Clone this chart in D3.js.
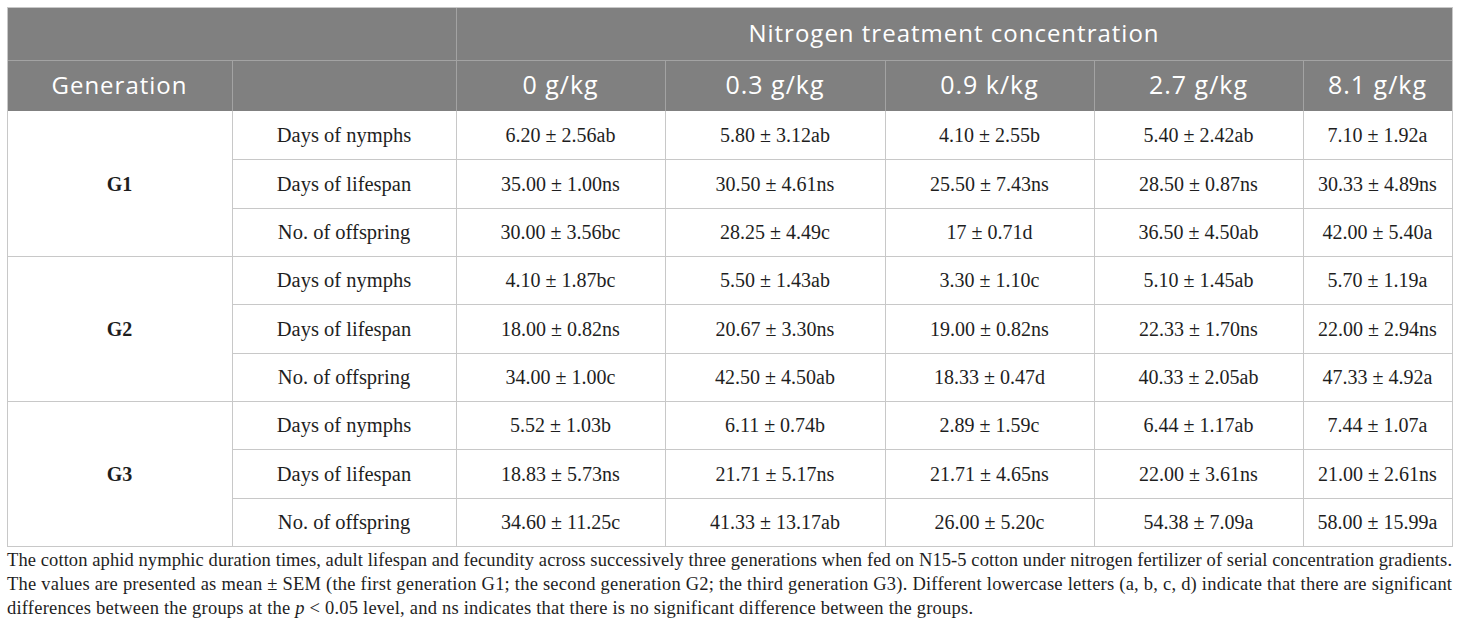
<!DOCTYPE html>
<html>
<head>
<meta charset="utf-8">
<title>Cotton aphid table</title>
<style>
  body { margin: 0; background: #ffffff; }
  svg { display: block; }
</style>
</head>
<body>
<svg></svg>
<script src="https://d3js.org/d3.v7.min.js"></script>
<script>
// table content
var concentrations = ["0 g/kg", "0.3 g/kg", "0.9 k/kg", "2.7 g/kg", "8.1 g/kg"];
var generations = ["G1", "G2", "G3"];
var traits = ["Days of nymphs", "Days of lifespan", "No. of offspring"];

var g1Values = [
  ["6.20 \u00b1 2.56ab", "5.80 \u00b1 3.12ab", "4.10 \u00b1 2.55b", "5.40 \u00b1 2.42ab", "7.10 \u00b1 1.92a"],
  ["35.00 \u00b1 1.00ns", "30.50 \u00b1 4.61ns", "25.50 \u00b1 7.43ns", "28.50 \u00b1 0.87ns", "30.33 \u00b1 4.89ns"],
  ["30.00 \u00b1 3.56bc", "28.25 \u00b1 4.49c", "17 \u00b1 0.71d", "36.50 \u00b1 4.50ab", "42.00 \u00b1 5.40a"]
];
var g2Values = [
  ["4.10 \u00b1 1.87bc", "5.50 \u00b1 1.43ab", "3.30 \u00b1 1.10c", "5.10 \u00b1 1.45ab", "5.70 \u00b1 1.19a"],
  ["18.00 \u00b1 0.82ns", "20.67 \u00b1 3.30ns", "19.00 \u00b1 0.82ns", "22.33 \u00b1 1.70ns", "22.00 \u00b1 2.94ns"],
  ["34.00 \u00b1 1.00c", "42.50 \u00b1 4.50ab", "18.33 \u00b1 0.47d", "40.33 \u00b1 2.05ab", "47.33 \u00b1 4.92a"]
];
var g3Values = [
  ["5.52 \u00b1 1.03b", "6.11 \u00b1 0.74b", "2.89 \u00b1 1.59c", "6.44 \u00b1 1.17ab", "7.44 \u00b1 1.07a"],
  ["18.83 \u00b1 5.73ns", "21.71 \u00b1 5.17ns", "21.71 \u00b1 4.65ns", "22.00 \u00b1 3.61ns", "21.00 \u00b1 2.61ns"],
  ["34.60 \u00b1 11.25c", "41.33 \u00b1 13.17ab", "26.00 \u00b1 5.20c", "54.38 \u00b1 7.09a", "58.00 \u00b1 15.99a"]
];

var headerTitle = "Nitrogen treatment concentration";
var generationLabel = "Generation";

var footnoteLines = [
  [{t: "The cotton aphid nymphic duration times, adult lifespan and fecundity across successively three generations when fed on N15-5 cotton under nitrogen fertilizer of serial concentration gradients."}],
  [{t: "The values are presented as mean \u00b1 SEM (the first generation G1; the second generation G2; the third generation G3). Different lowercase letters (a, b, c, d) indicate that there are significant"}],
  [{t: "differences between the groups at the "}, {t: "p", i: true}, {t: " < 0.05 level, and ns indicates that there is no significant difference between the groups."}]
];

var valuesByGeneration = [g1Values, g2Values, g3Values];

// canvas
var width = 1460, height = 633;
var svg = d3.select("svg").attr("width", width).attr("height", height);

// layout
var left = 7, right = 1452;
var colEdges = [7, 232, 456, 665, 885, 1094, 1303, 1452];
var headTop = 7, headMid = 60, headBottom = 111, bodyBottom = 546;
var footWidths = [right - left, right - left, 966];

var headFill = "#808080", headLine = "#a3a3a3", gridLine = "#c8c8c8";
var sans = "'Open Sans', 'Noto Sans', sans-serif";
var serif = "'Liberation Serif', 'DejaVu Serif', serif";
var ink = "#1e1e1e";

// one band per body row
var rows = [];
generations.forEach(function (g, gi) {
  traits.forEach(function (tr, ti) {
    rows.push({gen: gi, trait: ti, values: valuesByGeneration[gi][ti]});
  });
});
var y = d3.scaleBand().domain(d3.range(rows.length)).range([headBottom, bodyBottom]);

// header background
svg.append("rect")
  .attr("x", left).attr("y", headTop)
  .attr("width", right - left).attr("height", headBottom - headTop)
  .attr("fill", headFill);

// header grid lines
var hl = svg.append("g").attr("stroke", headLine).attr("stroke-width", 1);
hl.append("line").attr("x1", left).attr("x2", right).attr("y1", headMid + 0.5).attr("y2", headMid + 0.5);
hl.append("line").attr("x1", colEdges[2] + 0.5).attr("x2", colEdges[2] + 0.5).attr("y1", headTop).attr("y2", headBottom);
hl.selectAll("line.c").data(colEdges.slice(1, -1).filter(function (d, i) { return i !== 1; }))
  .enter().append("line").attr("class", "c")
  .attr("x1", function (d) { return d + 0.5; }).attr("x2", function (d) { return d + 0.5; })
  .attr("y1", headMid).attr("y2", headBottom);

// header text
svg.append("text")
  .attr("x", (colEdges[2] + right) / 2).attr("y", (headTop + headMid) / 2)
  .attr("dy", "0.35em").attr("text-anchor", "middle")
  .attr("fill", "#ffffff").style("font-family", sans).style("font-size", "24px")
  .style("letter-spacing", "1px")
  .text(headerTitle);

svg.append("text")
  .attr("x", (colEdges[0] + colEdges[1]) / 2).attr("y", (headMid + headBottom) / 2)
  .attr("dy", "0.35em").attr("text-anchor", "middle")
  .attr("fill", "#ffffff").style("font-family", sans).style("font-size", "24px")
  .style("letter-spacing", "1px")
  .text(generationLabel);

svg.selectAll("text.conc").data(concentrations).enter().append("text")
  .attr("class", "conc")
  .attr("x", function (d, i) { return (colEdges[i + 2] + colEdges[i + 3]) / 2; })
  .attr("y", (headMid + headBottom) / 2)
  .attr("dy", "0.35em").attr("text-anchor", "middle")
  .attr("fill", "#ffffff").style("font-family", sans).style("font-size", "25px")
  .style("letter-spacing", "1px")
  .text(function (d) { return d; });

// body grid
var grid = svg.append("g").attr("stroke", gridLine).attr("stroke-width", 1).attr("fill", "none");
rows.forEach(function (r, i) {
  var yb = Math.round(y(i) + y.bandwidth()) + 0.5;
  var x1 = (r.trait === 2 || i === rows.length - 1) ? left : colEdges[1];
  grid.append("line").attr("x1", x1).attr("x2", right).attr("y1", yb).attr("y2", yb);
});
colEdges.forEach(function (cx) {
  grid.append("line").attr("x1", cx + 0.5).attr("x2", cx + 0.5).attr("y1", headBottom).attr("y2", bodyBottom);
});
// outer frame
svg.append("rect")
  .attr("x", left + 0.5).attr("y", headTop + 0.5)
  .attr("width", right - left).attr("height", bodyBottom - headTop)
  .attr("fill", "none").attr("stroke", gridLine);

// generation labels
svg.selectAll("text.gen").data(generations).enter().append("text")
  .attr("class", "gen")
  .attr("x", (colEdges[0] + colEdges[1]) / 2)
  .attr("y", function (d, i) { return (y(i * 3) + y(i * 3 + 2) + y.bandwidth()) / 2; })
  .attr("dy", "0.35em").attr("text-anchor", "middle")
  .attr("fill", ink).style("font-family", serif).style("font-size", "20px").style("font-weight", "bold")
  .text(function (d) { return d; });

// trait labels and values
var rowG = svg.selectAll("g.row").data(rows).enter().append("g").attr("class", "row")
  .attr("transform", function (d, i) { return "translate(0," + (y(i) + y.bandwidth() / 2) + ")"; });

rowG.append("text")
  .attr("x", (colEdges[1] + colEdges[2]) / 2)
  .attr("dy", "0.35em").attr("text-anchor", "middle")
  .attr("fill", ink).style("font-family", serif).style("font-size", "20.5px")
  .text(function (d) { return traits[d.trait]; });

rowG.selectAll("text.val").data(function (d) { return d.values; }).enter().append("text")
  .attr("class", "val")
  .attr("x", function (d, i) { return (colEdges[i + 2] + colEdges[i + 3]) / 2; })
  .attr("dy", "0.35em").attr("text-anchor", "middle")
  .attr("fill", ink).style("font-family", serif).style("font-size", "20px")
  .text(function (d) { return d; });

// footnote
var fy = d3.scaleLinear().domain([0, 2]).range([566, 614]);
footnoteLines.forEach(function (parts, i) {
  var t = svg.append("text")
    .attr("x", left).attr("y", fy(i))
    .attr("textLength", footWidths[i]).attr("lengthAdjust", "spacing")
    .attr("fill", ink).style("font-family", serif).style("font-size", "18.5px");
  parts.forEach(function (p) {
    t.append("tspan").style("font-style", p.i ? "italic" : "normal").text(p.t);
  });
});
</script>
</body>
</html>
